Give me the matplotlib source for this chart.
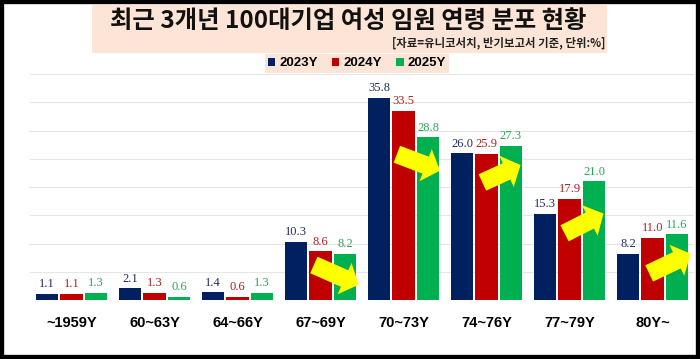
import matplotlib

matplotlib.use("Agg")
import matplotlib.pyplot as plt
import numpy as np
from matplotlib.patches import FancyArrowPatch, Rectangle

categories = ["~1959Y", "60~63Y", "64~66Y", "67~69Y", "70~73Y", "74~76Y", "77~79Y", "80Y~"]
series_names = ["2023Y", "2024Y", "2025Y"]
values_2023 = [1.1, 2.1, 1.4, 10.3, 35.8, 26.0, 15.3, 8.2]
values_2024 = [1.1, 1.3, 0.6, 8.6, 33.5, 25.9, 17.9, 11.0]
values_2025 = [1.3, 0.6, 1.3, 8.2, 28.8, 27.3, 21.0, 11.6]

title = "최근 3개년 100대기업 여성 임원 연령 분포 현황"
subtitle = "[자료=유니코서치, 반기보고서 기준, 단위:%]"

colors = ["#002060", "#C00000", "#00B050"]
label_colors = ["#1F2F5C", "#B02020", "#2AA55A"]
peach = "#FCE4D6"
kr_font = ["Noto Sans CJK KR", "DejaVu Sans"]

W, H = 700, 359
fig = plt.figure(figsize=(W / 100, H / 100), dpi=100)


def px_box(x0, y0, x1, y1):
    # pixel box (top-left origin) -> figure fraction rect
    return (x0 / W, 1 - y1 / H, (x1 - x0) / W, (y1 - y0) / H)


# title band
bx = px_box(92, 5, 607, 53)
fig.patches.append(Rectangle(bx[:2], *bx[2:], transform=fig.transFigure,
                             facecolor=peach, edgecolor="none", zorder=0))
fig.text(348.5 / W, 1 - 21 / H, title, ha="center", va="center", fontsize=17.5,
         fontweight="heavy", family=kr_font, color="#111111")
fig.text(605 / W, 1 - 43 / H, subtitle, ha="right", va="center", fontsize=8.2,
         fontweight="bold", family=kr_font, color="#222222")

ax = fig.add_axes([30 / W, 1 - 300 / H, 664 / W, 226 / H])
x = np.arange(len(categories))
width = 0.27
offset = 0.295
series = [values_2023, values_2024, values_2025]
bars = []
for i, (vals, color, tcolor, name) in enumerate(zip(series, colors, label_colors, series_names)):
    b = ax.bar(x + (i - 1) * offset, vals, width=width, color=color, label=name, zorder=2)
    ax.bar_label(b, labels=[f"{v:.1f}" for v in vals], padding=2.5, fontsize=9,
                 family="Liberation Serif", color=tcolor)
    bars.append(b)

ax.set_xlim(-0.5, 7.5)
ax.set_ylim(0, 40)
ax.set_yticks(np.arange(0, 41, 5))
ax.yaxis.grid(True, color="#e6e6e6", lw=0.8, zorder=0)
ax.set_axisbelow(True)
ax.tick_params(axis="y", left=False, labelleft=False)
ax.tick_params(axis="x", bottom=False, pad=8)
ax.set_xticks(x)
ax.set_xticklabels(categories, fontsize=10.5, fontweight="bold", family="Liberation Sans")
for s in ax.spines.values():
    s.set_visible(False)

# yellow trend arrows (tail, head) in data coords
arrows = [
    ((2.92, 6.2), (3.46, 2.7)),
    ((3.92, 25.8), (4.44, 22.9)),
    ((4.95, 20.8), (5.41, 23.9)),
    ((5.94, 11.8), (6.41, 15.3)),
    ((6.96, 4.7), (7.46, 8.2)),
]
for tail, head in arrows:
    ax.add_patch(FancyArrowPatch(tail, head, arrowstyle="simple,head_length=0.85,head_width=1.9,tail_width=1.0",
                                 mutation_scale=13, facecolor="#FFFF00", edgecolor="none", zorder=5,
                                 shrinkA=0, shrinkB=0))

leg = fig.legend(handles=bars, labels=series_names, loc="center", bbox_to_anchor=(357 / W, 1 - 63.5 / H),
                 ncol=3, frameon=True, facecolor=peach, edgecolor="none", fancybox=False,
                 handlelength=0.55, handleheight=0.55, handletextpad=0.3, columnspacing=1.1,
                 borderpad=0.25, prop={"family": "Liberation Sans", "weight": "bold", "size": 9.5})
leg.get_frame().set_alpha(1)

# outer black frame
fig.patches.append(Rectangle((0, 0), 1, 1, transform=fig.transFigure, fill=False,
                             edgecolor="black", lw=6, zorder=10))

fig.savefig("out.png", dpi=100)
